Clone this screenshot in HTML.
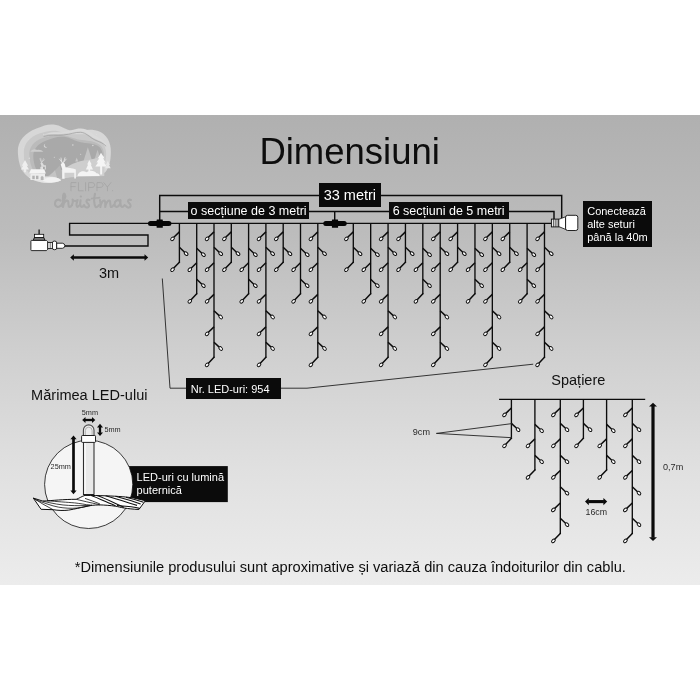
<!DOCTYPE html>
<html lang="ro">
<head>
<meta charset="utf-8">
<title>Dimensiuni</title>
<style>
html,body{margin:0;padding:0;background:#fff;}
html{filter:grayscale(1);}
body{width:700px;height:700px;position:relative;overflow:hidden;font-family:"Liberation Sans",sans-serif;color:#111;}
#band{position:absolute;left:0;top:115px;width:700px;height:470px;background:linear-gradient(180deg,#b0b0b0 0%,#bcbcbc 25%,#cfcfcf 50%,#e0e0e0 75%,#ececec 100%);}
#art{position:absolute;left:0;top:0;width:700px;height:700px;}
.t{position:absolute;white-space:nowrap;line-height:1;margin:0;}
.bx{position:absolute;background:#0b0b0b;color:#fff;white-space:nowrap;box-sizing:border-box;}
.bx span{position:absolute;line-height:1;}
</style>
</head>
<body>
<div id="band"></div>
<svg id="art" width="700" height="700" viewBox="0 0 700 700">

<defs><filter id="soft" x="-5%" y="-5%" width="110%" height="110%"><feGaussianBlur stdDeviation="0.35"/></filter></defs>
<g filter="url(#soft)">
<g transform="translate(15 120) scale(0.142857)">
<path d="M20 220 C18 150 70 90 150 60 C200 40 230 28 270 32 C320 36 350 70 400 75 C450 80 500 62 560 72 C620 82 665 130 670 200 C674 260 665 320 640 355 C620 385 560 392 500 392 C430 392 370 398 320 415 C280 432 250 445 210 440 C150 435 90 410 55 360 C30 320 22 270 20 220 Z" fill="#d7d7d7"/>
<path d="M62 230 C60 170 100 120 170 95 C220 78 260 70 300 78 C340 86 370 100 410 100 C460 100 520 95 570 120 C615 145 640 190 638 240 C636 300 620 340 590 365 C560 385 500 385 440 388 C380 392 330 400 290 415 C250 430 210 432 170 420 C110 400 70 350 64 290 Z" fill="#c9c9c9"/>
<path d="M100 240 C100 190 130 150 190 128 C240 110 290 100 340 108 C390 116 420 135 470 140 C520 146 570 150 600 180 C625 205 628 250 620 290 C610 340 580 370 530 380 C470 390 400 388 340 400 C290 410 240 422 200 412 C140 396 102 330 100 240 Z" fill="#bbbbbb"/>
<path d="M128 250 C128 205 160 165 215 145 C260 128 300 112 345 118 C390 124 420 150 470 158 C520 166 575 165 600 200 C620 230 615 280 600 320 L350 340 L200 405 C150 370 128 310 128 250 Z" fill="#a9a9a9"/>
<path d="M195 108 C240 90 290 102 340 97 C390 92 420 74 460 77 C500 80 520 112 560 132 C590 147 620 152 640 178 C622 140 590 128 565 112 C530 90 510 60 460 60 C415 60 390 80 340 84 C290 88 245 78 195 108 Z" fill="#dadada"/>
<path d="M200 116 C245 100 290 110 340 105 C390 100 420 84 460 86 C498 88 520 120 560 140 C590 154 618 160 638 184" fill="none" stroke="#9c9c9c" stroke-width="5"/>
<path d="M108 222 C115 205 140 200 155 210 C170 205 190 212 198 222 Z" fill="#cdcdcd"/>
<path d="M478 292 L510 190 L542 292 Z" fill="#c3c3c3"/>
<path d="M552 288 L578 208 L604 288 Z" fill="#c0c0c0"/>
<path d="M345 345 C400 300 450 288 500 282 C540 278 580 262 625 250 L625 392 L345 402 Z" fill="#cecece"/>
<path d="M422 290 L432 262 L442 290 Z" fill="#c8c8c8"/>
<path d="M205 412 C250 382 290 342 312 318 C322 340 330 380 338 412 Z" fill="#b4b4b4"/>
<path d="M215 412 C240 392 262 372 280 352 C286 372 292 395 296 412 Z" fill="#c4c4c4"/>
<path d="M95 400 C140 392 200 390 260 398 C300 404 322 418 322 424 C280 442 220 446 170 432 C140 422 112 412 95 400 Z" fill="#e4e4e4"/>
<path d="M195 426 C210 394 300 392 322 422 C290 440 230 444 195 426 Z" fill="#f1f1f1"/>
<path d="M70 280 L48 320 H58 L42 346 H64 V366 H76 V346 H98 L82 320 H92 Z" fill="#efefef"/>
<rect x="178" y="328" width="18" height="20" fill="#e6e6e6"/>
<path d="M98 374 L112 345 H205 L216 374 Z" fill="#f4f4f4"/>
<rect x="108" y="374" width="102" height="46" fill="#ececec"/>
<rect x="121" y="390" width="17" height="24" fill="#b2b2b2"/><rect x="147" y="390" width="17" height="24" fill="#b2b2b2"/>
<path d="M180 420 V402 C180 390 200 390 200 402 V420 Z" fill="#b6b6b6"/>
<path d="M184 346 V318 L178 302 L186 292 L196 304 L202 316 H216 V346 H209 V328 H192 V346 Z" fill="#dcdcdc"/>
<path d="M184 292 L174 272 M184 292 L180 268 M190 292 L200 270 M190 292 L206 278" stroke="#dcdcdc" stroke-width="4" fill="none" stroke-linecap="round"/>
<path d="M330 412 V342 L320 312 L334 294 L348 306 L354 330 C380 336 410 336 426 346 V410 H415 V370 H347 V412 Z" fill="#f3f3f3"/>
<path d="M328 296 L312 274 M328 296 L322 266 M340 296 L358 274 M340 296 L350 264" stroke="#f0f0f0" stroke-width="5" fill="none" stroke-linecap="round"/>
<path d="M602 230 L580 268 H590 L570 298 H582 L562 326 H596 V382 H610 V326 H642 L624 298 H634 L616 268 H626 Z" fill="#f5f5f5"/>
<path d="M520 280 L505 312 H512 L496 346 H514 V382 H526 V346 H546 L530 312 H537 Z" fill="#f3f3f3"/>
<path d="M650 285 L636 315 H642 L630 338 H670 L658 315 H664 Z" fill="#e8e8e8"/>
<path d="M438 392 C440 362 480 350 500 366 C520 348 560 352 570 372 C586 372 594 382 592 392 Z" fill="#f4f4f4"/>
<path d="M212 166 A14 14 0 1 0 228 186 A11 11 0 0 1 212 166 Z" fill="#d8d8d8"/>
<g fill="#dcdcdc"><circle cx="405" cy="175" r="5"/><circle cx="545" cy="178" r="5"/><circle cx="100" cy="268" r="5"/><circle cx="95" cy="135" r="4"/><circle cx="200" cy="100" r="4"/><circle cx="570" cy="100" r="4"/><circle cx="630" cy="165" r="4"/><circle cx="275" cy="260" r="3.5"/><circle cx="460" cy="240" r="3.5"/><circle cx="60" cy="190" r="3.5"/></g>
</g>
<g fill="none" stroke="#a4a4a4" stroke-width="0.85" stroke-linecap="round" stroke-linejoin="round">
<path d="M71 190.8 V182.6 H76 M71 186.6 H75.2"/>
<path d="M78.4 182.6 V190.8 H83.2"/>
<path d="M85.6 182.6 V190.8"/>
<path d="M88.6 190.8 V182.6 H92 C95.6 182.6 95.6 187.4 92 187.4 H88.6"/>
<path d="M97 190.8 V182.6 H100.4 C104 182.6 104 187.4 100.4 187.4 H97"/>
<path d="M103.8 182.6 L107.4 187 L111 182.6 M107.4 187 V190.8"/>
<path d="M112.6 190.6 V190.8"/>
</g>
<g fill="none" stroke="#a9a9a9" stroke-width="2.1" stroke-linecap="round" stroke-linejoin="round">
<path d="M60.5 200.6 C58 198.6 55 200 55 203.6 C55 207 58.5 208 61 205.6"/>
<path d="M61 205.6 C64.2 201 66.2 196 64.6 193.8 C63.2 192.8 62.6 196 62.9 207 C63.6 202 66.6 199.6 68 201 C69 202.6 67.6 206 69.5 207 C70.5 207 71.5 206 72 205"/>
<path d="M72 205 C73 203 73 201 72.6 199.6 C74 201.6 76.5 201 77.6 200 C76.6 202.6 76 205 77 206.8 C78 207 79 206 79.6 205"/>
<path d="M80.6 200.2 C80 203 80 206 81.6 207 C82.6 207 83.6 206 84 205"/>
<path d="M80.8 196.4 L80.9 196.5"/>
<path d="M89.6 199.9 C87 199 85.6 200.6 87 202.6 C89 204.6 90 206 88 207.3 C86.6 208 85 207 84.6 206"/>
<path d="M95 193.8 C94 198 94 204 95.6 207 C96.6 207.5 98 206.5 99 205"/>
<path d="M91.6 198.6 C94 198 97 198 99.6 197.6" stroke-width="1.6"/>
<path d="M100 200.2 C100.6 202 100.6 205 100.4 207 C101 203 103 199.9 104.6 200.6 C105.8 201.6 105 205 105.3 207 C106 203 108 199.9 109.6 200.6 C110.8 201.6 109.8 205.6 111 207 C112 207.3 113 206 113.6 205"/>
<path d="M120 201.2 C118 199 114.6 200.6 114.6 204 C114.6 207.6 118 208 120 204 C120 202.6 120.3 201 120.6 200.2 C120 203 120.6 206.6 122 207 C123 207 124 206 124.6 205"/>
<path d="M131 199.9 C128.6 199 127 200.6 128.6 202.6 C130.6 204.6 131.6 206 129.6 207.3 C128 208 126.6 207 126 206"/>
</g>
</g>

<path d="M159.70 223.40 L159.70 195.50 L561.70 195.50 L561.70 218.50" fill="none" stroke="#0c0c0c" stroke-width="1.45" />
<path d="M159.70 211.40 L554.00 211.40 L554.00 219.00" fill="none" stroke="#0c0c0c" stroke-width="1.45" />
<path d="M334.70 211.40 L334.70 223.40" fill="none" stroke="#0c0c0c" stroke-width="1.45" />
<path d="M148.00 223.40 L552.00 223.40" fill="none" stroke="#0c0c0c" stroke-width="1.4" />
<path d="M148.50 223.40 L69.60 223.40 L69.60 235.00 L148.00 235.00 L148.00 246.00 L64.00 246.00" fill="none" stroke="#0c0c0c" stroke-width="1.4" />
<path d="M179.40 223.40 V262.70" fill="none" stroke="#0c0c0c" stroke-width="1.35"/>
<path d="M179.40 262.20 L173.80 268.10" fill="none" stroke="#0c0c0c" stroke-width="1.5" stroke-linecap="round"/>
<ellipse cx="172.50" cy="269.70" rx="2.1" ry="1.45" transform="rotate(-45 172.50 269.70)" fill="#fff" stroke="#0a0a0a" stroke-width="0.95"/>
<path d="M179.40 231.90 L173.80 237.30" fill="none" stroke="#0c0c0c" stroke-width="1.5"/>
<ellipse cx="172.50" cy="238.80" rx="2.1" ry="1.45" transform="rotate(-45 172.50 238.80)" fill="#fff" stroke="#0a0a0a" stroke-width="0.95"/>
<path d="M179.40 247.30 L184.60 252.20" fill="none" stroke="#0c0c0c" stroke-width="1.5"/>
<ellipse cx="186.10" cy="253.60" rx="2.1" ry="1.45" transform="rotate(45 186.10 253.60)" fill="#fff" stroke="#0a0a0a" stroke-width="0.95"/>
<path d="M196.70 223.40 V294.30" fill="none" stroke="#0c0c0c" stroke-width="1.35"/>
<path d="M196.70 293.80 L191.10 299.70" fill="none" stroke="#0c0c0c" stroke-width="1.5" stroke-linecap="round"/>
<ellipse cx="189.80" cy="301.30" rx="2.1" ry="1.45" transform="rotate(-45 189.80 301.30)" fill="#fff" stroke="#0a0a0a" stroke-width="0.95"/>
<path d="M196.70 262.80 L191.10 268.20" fill="none" stroke="#0c0c0c" stroke-width="1.5"/>
<ellipse cx="189.80" cy="269.70" rx="2.1" ry="1.45" transform="rotate(-45 189.80 269.70)" fill="#fff" stroke="#0a0a0a" stroke-width="0.95"/>
<path d="M196.70 248.30 L201.90 253.20" fill="none" stroke="#0c0c0c" stroke-width="1.5"/>
<ellipse cx="203.40" cy="254.60" rx="2.1" ry="1.45" transform="rotate(45 203.40 254.60)" fill="#fff" stroke="#0a0a0a" stroke-width="0.95"/>
<path d="M196.70 279.30 L201.90 284.20" fill="none" stroke="#0c0c0c" stroke-width="1.5"/>
<ellipse cx="203.40" cy="285.60" rx="2.1" ry="1.45" transform="rotate(45 203.40 285.60)" fill="#fff" stroke="#0a0a0a" stroke-width="0.95"/>
<path d="M214.00 223.40 V357.80" fill="none" stroke="#0c0c0c" stroke-width="1.35"/>
<path d="M214.00 357.30 L208.40 363.20" fill="none" stroke="#0c0c0c" stroke-width="1.5" stroke-linecap="round"/>
<ellipse cx="207.10" cy="364.80" rx="2.1" ry="1.45" transform="rotate(-45 207.10 364.80)" fill="#fff" stroke="#0a0a0a" stroke-width="0.95"/>
<path d="M214.00 231.90 L208.40 237.30" fill="none" stroke="#0c0c0c" stroke-width="1.5"/>
<ellipse cx="207.10" cy="238.80" rx="2.1" ry="1.45" transform="rotate(-45 207.10 238.80)" fill="#fff" stroke="#0a0a0a" stroke-width="0.95"/>
<path d="M214.00 262.80 L208.40 268.20" fill="none" stroke="#0c0c0c" stroke-width="1.5"/>
<ellipse cx="207.10" cy="269.70" rx="2.1" ry="1.45" transform="rotate(-45 207.10 269.70)" fill="#fff" stroke="#0a0a0a" stroke-width="0.95"/>
<path d="M214.00 294.40 L208.40 299.80" fill="none" stroke="#0c0c0c" stroke-width="1.5"/>
<ellipse cx="207.10" cy="301.30" rx="2.1" ry="1.45" transform="rotate(-45 207.10 301.30)" fill="#fff" stroke="#0a0a0a" stroke-width="0.95"/>
<path d="M214.00 326.90 L208.40 332.30" fill="none" stroke="#0c0c0c" stroke-width="1.5"/>
<ellipse cx="207.10" cy="333.80" rx="2.1" ry="1.45" transform="rotate(-45 207.10 333.80)" fill="#fff" stroke="#0a0a0a" stroke-width="0.95"/>
<path d="M214.00 247.30 L219.20 252.20" fill="none" stroke="#0c0c0c" stroke-width="1.5"/>
<ellipse cx="220.70" cy="253.60" rx="2.1" ry="1.45" transform="rotate(45 220.70 253.60)" fill="#fff" stroke="#0a0a0a" stroke-width="0.95"/>
<path d="M214.00 310.70 L219.20 315.60" fill="none" stroke="#0c0c0c" stroke-width="1.5"/>
<ellipse cx="220.70" cy="317.00" rx="2.1" ry="1.45" transform="rotate(45 220.70 317.00)" fill="#fff" stroke="#0a0a0a" stroke-width="0.95"/>
<path d="M214.00 342.20 L219.20 347.10" fill="none" stroke="#0c0c0c" stroke-width="1.5"/>
<ellipse cx="220.70" cy="348.50" rx="2.1" ry="1.45" transform="rotate(45 220.70 348.50)" fill="#fff" stroke="#0a0a0a" stroke-width="0.95"/>
<path d="M231.30 223.40 V262.70" fill="none" stroke="#0c0c0c" stroke-width="1.35"/>
<path d="M231.30 262.20 L225.70 268.10" fill="none" stroke="#0c0c0c" stroke-width="1.5" stroke-linecap="round"/>
<ellipse cx="224.40" cy="269.70" rx="2.1" ry="1.45" transform="rotate(-45 224.40 269.70)" fill="#fff" stroke="#0a0a0a" stroke-width="0.95"/>
<path d="M231.30 231.90 L225.70 237.30" fill="none" stroke="#0c0c0c" stroke-width="1.5"/>
<ellipse cx="224.40" cy="238.80" rx="2.1" ry="1.45" transform="rotate(-45 224.40 238.80)" fill="#fff" stroke="#0a0a0a" stroke-width="0.95"/>
<path d="M231.30 247.30 L236.50 252.20" fill="none" stroke="#0c0c0c" stroke-width="1.5"/>
<ellipse cx="238.00" cy="253.60" rx="2.1" ry="1.45" transform="rotate(45 238.00 253.60)" fill="#fff" stroke="#0a0a0a" stroke-width="0.95"/>
<path d="M248.60 223.40 V294.30" fill="none" stroke="#0c0c0c" stroke-width="1.35"/>
<path d="M248.60 293.80 L243.00 299.70" fill="none" stroke="#0c0c0c" stroke-width="1.5" stroke-linecap="round"/>
<ellipse cx="241.70" cy="301.30" rx="2.1" ry="1.45" transform="rotate(-45 241.70 301.30)" fill="#fff" stroke="#0a0a0a" stroke-width="0.95"/>
<path d="M248.60 262.80 L243.00 268.20" fill="none" stroke="#0c0c0c" stroke-width="1.5"/>
<ellipse cx="241.70" cy="269.70" rx="2.1" ry="1.45" transform="rotate(-45 241.70 269.70)" fill="#fff" stroke="#0a0a0a" stroke-width="0.95"/>
<path d="M248.60 248.30 L253.80 253.20" fill="none" stroke="#0c0c0c" stroke-width="1.5"/>
<ellipse cx="255.30" cy="254.60" rx="2.1" ry="1.45" transform="rotate(45 255.30 254.60)" fill="#fff" stroke="#0a0a0a" stroke-width="0.95"/>
<path d="M248.60 279.30 L253.80 284.20" fill="none" stroke="#0c0c0c" stroke-width="1.5"/>
<ellipse cx="255.30" cy="285.60" rx="2.1" ry="1.45" transform="rotate(45 255.30 285.60)" fill="#fff" stroke="#0a0a0a" stroke-width="0.95"/>
<path d="M265.90 223.40 V357.80" fill="none" stroke="#0c0c0c" stroke-width="1.35"/>
<path d="M265.90 357.30 L260.30 363.20" fill="none" stroke="#0c0c0c" stroke-width="1.5" stroke-linecap="round"/>
<ellipse cx="259.00" cy="364.80" rx="2.1" ry="1.45" transform="rotate(-45 259.00 364.80)" fill="#fff" stroke="#0a0a0a" stroke-width="0.95"/>
<path d="M265.90 231.90 L260.30 237.30" fill="none" stroke="#0c0c0c" stroke-width="1.5"/>
<ellipse cx="259.00" cy="238.80" rx="2.1" ry="1.45" transform="rotate(-45 259.00 238.80)" fill="#fff" stroke="#0a0a0a" stroke-width="0.95"/>
<path d="M265.90 262.80 L260.30 268.20" fill="none" stroke="#0c0c0c" stroke-width="1.5"/>
<ellipse cx="259.00" cy="269.70" rx="2.1" ry="1.45" transform="rotate(-45 259.00 269.70)" fill="#fff" stroke="#0a0a0a" stroke-width="0.95"/>
<path d="M265.90 294.40 L260.30 299.80" fill="none" stroke="#0c0c0c" stroke-width="1.5"/>
<ellipse cx="259.00" cy="301.30" rx="2.1" ry="1.45" transform="rotate(-45 259.00 301.30)" fill="#fff" stroke="#0a0a0a" stroke-width="0.95"/>
<path d="M265.90 326.90 L260.30 332.30" fill="none" stroke="#0c0c0c" stroke-width="1.5"/>
<ellipse cx="259.00" cy="333.80" rx="2.1" ry="1.45" transform="rotate(-45 259.00 333.80)" fill="#fff" stroke="#0a0a0a" stroke-width="0.95"/>
<path d="M265.90 247.30 L271.10 252.20" fill="none" stroke="#0c0c0c" stroke-width="1.5"/>
<ellipse cx="272.60" cy="253.60" rx="2.1" ry="1.45" transform="rotate(45 272.60 253.60)" fill="#fff" stroke="#0a0a0a" stroke-width="0.95"/>
<path d="M265.90 310.70 L271.10 315.60" fill="none" stroke="#0c0c0c" stroke-width="1.5"/>
<ellipse cx="272.60" cy="317.00" rx="2.1" ry="1.45" transform="rotate(45 272.60 317.00)" fill="#fff" stroke="#0a0a0a" stroke-width="0.95"/>
<path d="M265.90 342.20 L271.10 347.10" fill="none" stroke="#0c0c0c" stroke-width="1.5"/>
<ellipse cx="272.60" cy="348.50" rx="2.1" ry="1.45" transform="rotate(45 272.60 348.50)" fill="#fff" stroke="#0a0a0a" stroke-width="0.95"/>
<path d="M283.20 223.40 V262.70" fill="none" stroke="#0c0c0c" stroke-width="1.35"/>
<path d="M283.20 262.20 L277.60 268.10" fill="none" stroke="#0c0c0c" stroke-width="1.5" stroke-linecap="round"/>
<ellipse cx="276.30" cy="269.70" rx="2.1" ry="1.45" transform="rotate(-45 276.30 269.70)" fill="#fff" stroke="#0a0a0a" stroke-width="0.95"/>
<path d="M283.20 231.90 L277.60 237.30" fill="none" stroke="#0c0c0c" stroke-width="1.5"/>
<ellipse cx="276.30" cy="238.80" rx="2.1" ry="1.45" transform="rotate(-45 276.30 238.80)" fill="#fff" stroke="#0a0a0a" stroke-width="0.95"/>
<path d="M283.20 247.30 L288.40 252.20" fill="none" stroke="#0c0c0c" stroke-width="1.5"/>
<ellipse cx="289.90" cy="253.60" rx="2.1" ry="1.45" transform="rotate(45 289.90 253.60)" fill="#fff" stroke="#0a0a0a" stroke-width="0.95"/>
<path d="M300.50 223.40 V294.30" fill="none" stroke="#0c0c0c" stroke-width="1.35"/>
<path d="M300.50 293.80 L294.90 299.70" fill="none" stroke="#0c0c0c" stroke-width="1.5" stroke-linecap="round"/>
<ellipse cx="293.60" cy="301.30" rx="2.1" ry="1.45" transform="rotate(-45 293.60 301.30)" fill="#fff" stroke="#0a0a0a" stroke-width="0.95"/>
<path d="M300.50 262.80 L294.90 268.20" fill="none" stroke="#0c0c0c" stroke-width="1.5"/>
<ellipse cx="293.60" cy="269.70" rx="2.1" ry="1.45" transform="rotate(-45 293.60 269.70)" fill="#fff" stroke="#0a0a0a" stroke-width="0.95"/>
<path d="M300.50 248.30 L305.70 253.20" fill="none" stroke="#0c0c0c" stroke-width="1.5"/>
<ellipse cx="307.20" cy="254.60" rx="2.1" ry="1.45" transform="rotate(45 307.20 254.60)" fill="#fff" stroke="#0a0a0a" stroke-width="0.95"/>
<path d="M300.50 279.30 L305.70 284.20" fill="none" stroke="#0c0c0c" stroke-width="1.5"/>
<ellipse cx="307.20" cy="285.60" rx="2.1" ry="1.45" transform="rotate(45 307.20 285.60)" fill="#fff" stroke="#0a0a0a" stroke-width="0.95"/>
<path d="M317.80 223.40 V357.80" fill="none" stroke="#0c0c0c" stroke-width="1.35"/>
<path d="M317.80 357.30 L312.20 363.20" fill="none" stroke="#0c0c0c" stroke-width="1.5" stroke-linecap="round"/>
<ellipse cx="310.90" cy="364.80" rx="2.1" ry="1.45" transform="rotate(-45 310.90 364.80)" fill="#fff" stroke="#0a0a0a" stroke-width="0.95"/>
<path d="M317.80 231.90 L312.20 237.30" fill="none" stroke="#0c0c0c" stroke-width="1.5"/>
<ellipse cx="310.90" cy="238.80" rx="2.1" ry="1.45" transform="rotate(-45 310.90 238.80)" fill="#fff" stroke="#0a0a0a" stroke-width="0.95"/>
<path d="M317.80 262.80 L312.20 268.20" fill="none" stroke="#0c0c0c" stroke-width="1.5"/>
<ellipse cx="310.90" cy="269.70" rx="2.1" ry="1.45" transform="rotate(-45 310.90 269.70)" fill="#fff" stroke="#0a0a0a" stroke-width="0.95"/>
<path d="M317.80 294.40 L312.20 299.80" fill="none" stroke="#0c0c0c" stroke-width="1.5"/>
<ellipse cx="310.90" cy="301.30" rx="2.1" ry="1.45" transform="rotate(-45 310.90 301.30)" fill="#fff" stroke="#0a0a0a" stroke-width="0.95"/>
<path d="M317.80 326.90 L312.20 332.30" fill="none" stroke="#0c0c0c" stroke-width="1.5"/>
<ellipse cx="310.90" cy="333.80" rx="2.1" ry="1.45" transform="rotate(-45 310.90 333.80)" fill="#fff" stroke="#0a0a0a" stroke-width="0.95"/>
<path d="M317.80 247.30 L323.00 252.20" fill="none" stroke="#0c0c0c" stroke-width="1.5"/>
<ellipse cx="324.50" cy="253.60" rx="2.1" ry="1.45" transform="rotate(45 324.50 253.60)" fill="#fff" stroke="#0a0a0a" stroke-width="0.95"/>
<path d="M317.80 310.70 L323.00 315.60" fill="none" stroke="#0c0c0c" stroke-width="1.5"/>
<ellipse cx="324.50" cy="317.00" rx="2.1" ry="1.45" transform="rotate(45 324.50 317.00)" fill="#fff" stroke="#0a0a0a" stroke-width="0.95"/>
<path d="M317.80 342.20 L323.00 347.10" fill="none" stroke="#0c0c0c" stroke-width="1.5"/>
<ellipse cx="324.50" cy="348.50" rx="2.1" ry="1.45" transform="rotate(45 324.50 348.50)" fill="#fff" stroke="#0a0a0a" stroke-width="0.95"/>
<path d="M353.30 223.40 V262.70" fill="none" stroke="#0c0c0c" stroke-width="1.35"/>
<path d="M353.30 262.20 L347.70 268.10" fill="none" stroke="#0c0c0c" stroke-width="1.5" stroke-linecap="round"/>
<ellipse cx="346.40" cy="269.70" rx="2.1" ry="1.45" transform="rotate(-45 346.40 269.70)" fill="#fff" stroke="#0a0a0a" stroke-width="0.95"/>
<path d="M353.30 231.90 L347.70 237.30" fill="none" stroke="#0c0c0c" stroke-width="1.5"/>
<ellipse cx="346.40" cy="238.80" rx="2.1" ry="1.45" transform="rotate(-45 346.40 238.80)" fill="#fff" stroke="#0a0a0a" stroke-width="0.95"/>
<path d="M353.30 247.30 L358.50 252.20" fill="none" stroke="#0c0c0c" stroke-width="1.5"/>
<ellipse cx="360.00" cy="253.60" rx="2.1" ry="1.45" transform="rotate(45 360.00 253.60)" fill="#fff" stroke="#0a0a0a" stroke-width="0.95"/>
<path d="M370.68 223.40 V294.30" fill="none" stroke="#0c0c0c" stroke-width="1.35"/>
<path d="M370.68 293.80 L365.08 299.70" fill="none" stroke="#0c0c0c" stroke-width="1.5" stroke-linecap="round"/>
<ellipse cx="363.78" cy="301.30" rx="2.1" ry="1.45" transform="rotate(-45 363.78 301.30)" fill="#fff" stroke="#0a0a0a" stroke-width="0.95"/>
<path d="M370.68 262.80 L365.08 268.20" fill="none" stroke="#0c0c0c" stroke-width="1.5"/>
<ellipse cx="363.78" cy="269.70" rx="2.1" ry="1.45" transform="rotate(-45 363.78 269.70)" fill="#fff" stroke="#0a0a0a" stroke-width="0.95"/>
<path d="M370.68 248.30 L375.88 253.20" fill="none" stroke="#0c0c0c" stroke-width="1.5"/>
<ellipse cx="377.38" cy="254.60" rx="2.1" ry="1.45" transform="rotate(45 377.38 254.60)" fill="#fff" stroke="#0a0a0a" stroke-width="0.95"/>
<path d="M370.68 279.30 L375.88 284.20" fill="none" stroke="#0c0c0c" stroke-width="1.5"/>
<ellipse cx="377.38" cy="285.60" rx="2.1" ry="1.45" transform="rotate(45 377.38 285.60)" fill="#fff" stroke="#0a0a0a" stroke-width="0.95"/>
<path d="M388.06 223.40 V357.80" fill="none" stroke="#0c0c0c" stroke-width="1.35"/>
<path d="M388.06 357.30 L382.46 363.20" fill="none" stroke="#0c0c0c" stroke-width="1.5" stroke-linecap="round"/>
<ellipse cx="381.16" cy="364.80" rx="2.1" ry="1.45" transform="rotate(-45 381.16 364.80)" fill="#fff" stroke="#0a0a0a" stroke-width="0.95"/>
<path d="M388.06 231.90 L382.46 237.30" fill="none" stroke="#0c0c0c" stroke-width="1.5"/>
<ellipse cx="381.16" cy="238.80" rx="2.1" ry="1.45" transform="rotate(-45 381.16 238.80)" fill="#fff" stroke="#0a0a0a" stroke-width="0.95"/>
<path d="M388.06 262.80 L382.46 268.20" fill="none" stroke="#0c0c0c" stroke-width="1.5"/>
<ellipse cx="381.16" cy="269.70" rx="2.1" ry="1.45" transform="rotate(-45 381.16 269.70)" fill="#fff" stroke="#0a0a0a" stroke-width="0.95"/>
<path d="M388.06 294.40 L382.46 299.80" fill="none" stroke="#0c0c0c" stroke-width="1.5"/>
<ellipse cx="381.16" cy="301.30" rx="2.1" ry="1.45" transform="rotate(-45 381.16 301.30)" fill="#fff" stroke="#0a0a0a" stroke-width="0.95"/>
<path d="M388.06 326.90 L382.46 332.30" fill="none" stroke="#0c0c0c" stroke-width="1.5"/>
<ellipse cx="381.16" cy="333.80" rx="2.1" ry="1.45" transform="rotate(-45 381.16 333.80)" fill="#fff" stroke="#0a0a0a" stroke-width="0.95"/>
<path d="M388.06 247.30 L393.26 252.20" fill="none" stroke="#0c0c0c" stroke-width="1.5"/>
<ellipse cx="394.76" cy="253.60" rx="2.1" ry="1.45" transform="rotate(45 394.76 253.60)" fill="#fff" stroke="#0a0a0a" stroke-width="0.95"/>
<path d="M388.06 310.70 L393.26 315.60" fill="none" stroke="#0c0c0c" stroke-width="1.5"/>
<ellipse cx="394.76" cy="317.00" rx="2.1" ry="1.45" transform="rotate(45 394.76 317.00)" fill="#fff" stroke="#0a0a0a" stroke-width="0.95"/>
<path d="M388.06 342.20 L393.26 347.10" fill="none" stroke="#0c0c0c" stroke-width="1.5"/>
<ellipse cx="394.76" cy="348.50" rx="2.1" ry="1.45" transform="rotate(45 394.76 348.50)" fill="#fff" stroke="#0a0a0a" stroke-width="0.95"/>
<path d="M405.44 223.40 V262.70" fill="none" stroke="#0c0c0c" stroke-width="1.35"/>
<path d="M405.44 262.20 L399.84 268.10" fill="none" stroke="#0c0c0c" stroke-width="1.5" stroke-linecap="round"/>
<ellipse cx="398.54" cy="269.70" rx="2.1" ry="1.45" transform="rotate(-45 398.54 269.70)" fill="#fff" stroke="#0a0a0a" stroke-width="0.95"/>
<path d="M405.44 231.90 L399.84 237.30" fill="none" stroke="#0c0c0c" stroke-width="1.5"/>
<ellipse cx="398.54" cy="238.80" rx="2.1" ry="1.45" transform="rotate(-45 398.54 238.80)" fill="#fff" stroke="#0a0a0a" stroke-width="0.95"/>
<path d="M405.44 247.30 L410.64 252.20" fill="none" stroke="#0c0c0c" stroke-width="1.5"/>
<ellipse cx="412.14" cy="253.60" rx="2.1" ry="1.45" transform="rotate(45 412.14 253.60)" fill="#fff" stroke="#0a0a0a" stroke-width="0.95"/>
<path d="M422.82 223.40 V294.30" fill="none" stroke="#0c0c0c" stroke-width="1.35"/>
<path d="M422.82 293.80 L417.22 299.70" fill="none" stroke="#0c0c0c" stroke-width="1.5" stroke-linecap="round"/>
<ellipse cx="415.92" cy="301.30" rx="2.1" ry="1.45" transform="rotate(-45 415.92 301.30)" fill="#fff" stroke="#0a0a0a" stroke-width="0.95"/>
<path d="M422.82 262.80 L417.22 268.20" fill="none" stroke="#0c0c0c" stroke-width="1.5"/>
<ellipse cx="415.92" cy="269.70" rx="2.1" ry="1.45" transform="rotate(-45 415.92 269.70)" fill="#fff" stroke="#0a0a0a" stroke-width="0.95"/>
<path d="M422.82 248.30 L428.02 253.20" fill="none" stroke="#0c0c0c" stroke-width="1.5"/>
<ellipse cx="429.52" cy="254.60" rx="2.1" ry="1.45" transform="rotate(45 429.52 254.60)" fill="#fff" stroke="#0a0a0a" stroke-width="0.95"/>
<path d="M422.82 279.30 L428.02 284.20" fill="none" stroke="#0c0c0c" stroke-width="1.5"/>
<ellipse cx="429.52" cy="285.60" rx="2.1" ry="1.45" transform="rotate(45 429.52 285.60)" fill="#fff" stroke="#0a0a0a" stroke-width="0.95"/>
<path d="M440.20 223.40 V357.80" fill="none" stroke="#0c0c0c" stroke-width="1.35"/>
<path d="M440.20 357.30 L434.60 363.20" fill="none" stroke="#0c0c0c" stroke-width="1.5" stroke-linecap="round"/>
<ellipse cx="433.30" cy="364.80" rx="2.1" ry="1.45" transform="rotate(-45 433.30 364.80)" fill="#fff" stroke="#0a0a0a" stroke-width="0.95"/>
<path d="M440.20 231.90 L434.60 237.30" fill="none" stroke="#0c0c0c" stroke-width="1.5"/>
<ellipse cx="433.30" cy="238.80" rx="2.1" ry="1.45" transform="rotate(-45 433.30 238.80)" fill="#fff" stroke="#0a0a0a" stroke-width="0.95"/>
<path d="M440.20 262.80 L434.60 268.20" fill="none" stroke="#0c0c0c" stroke-width="1.5"/>
<ellipse cx="433.30" cy="269.70" rx="2.1" ry="1.45" transform="rotate(-45 433.30 269.70)" fill="#fff" stroke="#0a0a0a" stroke-width="0.95"/>
<path d="M440.20 294.40 L434.60 299.80" fill="none" stroke="#0c0c0c" stroke-width="1.5"/>
<ellipse cx="433.30" cy="301.30" rx="2.1" ry="1.45" transform="rotate(-45 433.30 301.30)" fill="#fff" stroke="#0a0a0a" stroke-width="0.95"/>
<path d="M440.20 326.90 L434.60 332.30" fill="none" stroke="#0c0c0c" stroke-width="1.5"/>
<ellipse cx="433.30" cy="333.80" rx="2.1" ry="1.45" transform="rotate(-45 433.30 333.80)" fill="#fff" stroke="#0a0a0a" stroke-width="0.95"/>
<path d="M440.20 247.30 L445.40 252.20" fill="none" stroke="#0c0c0c" stroke-width="1.5"/>
<ellipse cx="446.90" cy="253.60" rx="2.1" ry="1.45" transform="rotate(45 446.90 253.60)" fill="#fff" stroke="#0a0a0a" stroke-width="0.95"/>
<path d="M440.20 310.70 L445.40 315.60" fill="none" stroke="#0c0c0c" stroke-width="1.5"/>
<ellipse cx="446.90" cy="317.00" rx="2.1" ry="1.45" transform="rotate(45 446.90 317.00)" fill="#fff" stroke="#0a0a0a" stroke-width="0.95"/>
<path d="M440.20 342.20 L445.40 347.10" fill="none" stroke="#0c0c0c" stroke-width="1.5"/>
<ellipse cx="446.90" cy="348.50" rx="2.1" ry="1.45" transform="rotate(45 446.90 348.50)" fill="#fff" stroke="#0a0a0a" stroke-width="0.95"/>
<path d="M457.58 223.40 V262.70" fill="none" stroke="#0c0c0c" stroke-width="1.35"/>
<path d="M457.58 262.20 L451.98 268.10" fill="none" stroke="#0c0c0c" stroke-width="1.5" stroke-linecap="round"/>
<ellipse cx="450.68" cy="269.70" rx="2.1" ry="1.45" transform="rotate(-45 450.68 269.70)" fill="#fff" stroke="#0a0a0a" stroke-width="0.95"/>
<path d="M457.58 231.90 L451.98 237.30" fill="none" stroke="#0c0c0c" stroke-width="1.5"/>
<ellipse cx="450.68" cy="238.80" rx="2.1" ry="1.45" transform="rotate(-45 450.68 238.80)" fill="#fff" stroke="#0a0a0a" stroke-width="0.95"/>
<path d="M457.58 247.30 L462.78 252.20" fill="none" stroke="#0c0c0c" stroke-width="1.5"/>
<ellipse cx="464.28" cy="253.60" rx="2.1" ry="1.45" transform="rotate(45 464.28 253.60)" fill="#fff" stroke="#0a0a0a" stroke-width="0.95"/>
<path d="M474.96 223.40 V294.30" fill="none" stroke="#0c0c0c" stroke-width="1.35"/>
<path d="M474.96 293.80 L469.36 299.70" fill="none" stroke="#0c0c0c" stroke-width="1.5" stroke-linecap="round"/>
<ellipse cx="468.06" cy="301.30" rx="2.1" ry="1.45" transform="rotate(-45 468.06 301.30)" fill="#fff" stroke="#0a0a0a" stroke-width="0.95"/>
<path d="M474.96 262.80 L469.36 268.20" fill="none" stroke="#0c0c0c" stroke-width="1.5"/>
<ellipse cx="468.06" cy="269.70" rx="2.1" ry="1.45" transform="rotate(-45 468.06 269.70)" fill="#fff" stroke="#0a0a0a" stroke-width="0.95"/>
<path d="M474.96 248.30 L480.16 253.20" fill="none" stroke="#0c0c0c" stroke-width="1.5"/>
<ellipse cx="481.66" cy="254.60" rx="2.1" ry="1.45" transform="rotate(45 481.66 254.60)" fill="#fff" stroke="#0a0a0a" stroke-width="0.95"/>
<path d="M474.96 279.30 L480.16 284.20" fill="none" stroke="#0c0c0c" stroke-width="1.5"/>
<ellipse cx="481.66" cy="285.60" rx="2.1" ry="1.45" transform="rotate(45 481.66 285.60)" fill="#fff" stroke="#0a0a0a" stroke-width="0.95"/>
<path d="M492.34 223.40 V357.80" fill="none" stroke="#0c0c0c" stroke-width="1.35"/>
<path d="M492.34 357.30 L486.74 363.20" fill="none" stroke="#0c0c0c" stroke-width="1.5" stroke-linecap="round"/>
<ellipse cx="485.44" cy="364.80" rx="2.1" ry="1.45" transform="rotate(-45 485.44 364.80)" fill="#fff" stroke="#0a0a0a" stroke-width="0.95"/>
<path d="M492.34 231.90 L486.74 237.30" fill="none" stroke="#0c0c0c" stroke-width="1.5"/>
<ellipse cx="485.44" cy="238.80" rx="2.1" ry="1.45" transform="rotate(-45 485.44 238.80)" fill="#fff" stroke="#0a0a0a" stroke-width="0.95"/>
<path d="M492.34 262.80 L486.74 268.20" fill="none" stroke="#0c0c0c" stroke-width="1.5"/>
<ellipse cx="485.44" cy="269.70" rx="2.1" ry="1.45" transform="rotate(-45 485.44 269.70)" fill="#fff" stroke="#0a0a0a" stroke-width="0.95"/>
<path d="M492.34 294.40 L486.74 299.80" fill="none" stroke="#0c0c0c" stroke-width="1.5"/>
<ellipse cx="485.44" cy="301.30" rx="2.1" ry="1.45" transform="rotate(-45 485.44 301.30)" fill="#fff" stroke="#0a0a0a" stroke-width="0.95"/>
<path d="M492.34 326.90 L486.74 332.30" fill="none" stroke="#0c0c0c" stroke-width="1.5"/>
<ellipse cx="485.44" cy="333.80" rx="2.1" ry="1.45" transform="rotate(-45 485.44 333.80)" fill="#fff" stroke="#0a0a0a" stroke-width="0.95"/>
<path d="M492.34 247.30 L497.54 252.20" fill="none" stroke="#0c0c0c" stroke-width="1.5"/>
<ellipse cx="499.04" cy="253.60" rx="2.1" ry="1.45" transform="rotate(45 499.04 253.60)" fill="#fff" stroke="#0a0a0a" stroke-width="0.95"/>
<path d="M492.34 310.70 L497.54 315.60" fill="none" stroke="#0c0c0c" stroke-width="1.5"/>
<ellipse cx="499.04" cy="317.00" rx="2.1" ry="1.45" transform="rotate(45 499.04 317.00)" fill="#fff" stroke="#0a0a0a" stroke-width="0.95"/>
<path d="M492.34 342.20 L497.54 347.10" fill="none" stroke="#0c0c0c" stroke-width="1.5"/>
<ellipse cx="499.04" cy="348.50" rx="2.1" ry="1.45" transform="rotate(45 499.04 348.50)" fill="#fff" stroke="#0a0a0a" stroke-width="0.95"/>
<path d="M509.72 223.40 V262.70" fill="none" stroke="#0c0c0c" stroke-width="1.35"/>
<path d="M509.72 262.20 L504.12 268.10" fill="none" stroke="#0c0c0c" stroke-width="1.5" stroke-linecap="round"/>
<ellipse cx="502.82" cy="269.70" rx="2.1" ry="1.45" transform="rotate(-45 502.82 269.70)" fill="#fff" stroke="#0a0a0a" stroke-width="0.95"/>
<path d="M509.72 231.90 L504.12 237.30" fill="none" stroke="#0c0c0c" stroke-width="1.5"/>
<ellipse cx="502.82" cy="238.80" rx="2.1" ry="1.45" transform="rotate(-45 502.82 238.80)" fill="#fff" stroke="#0a0a0a" stroke-width="0.95"/>
<path d="M509.72 247.30 L514.92 252.20" fill="none" stroke="#0c0c0c" stroke-width="1.5"/>
<ellipse cx="516.42" cy="253.60" rx="2.1" ry="1.45" transform="rotate(45 516.42 253.60)" fill="#fff" stroke="#0a0a0a" stroke-width="0.95"/>
<path d="M527.10 223.40 V294.30" fill="none" stroke="#0c0c0c" stroke-width="1.35"/>
<path d="M527.10 293.80 L521.50 299.70" fill="none" stroke="#0c0c0c" stroke-width="1.5" stroke-linecap="round"/>
<ellipse cx="520.20" cy="301.30" rx="2.1" ry="1.45" transform="rotate(-45 520.20 301.30)" fill="#fff" stroke="#0a0a0a" stroke-width="0.95"/>
<path d="M527.10 262.80 L521.50 268.20" fill="none" stroke="#0c0c0c" stroke-width="1.5"/>
<ellipse cx="520.20" cy="269.70" rx="2.1" ry="1.45" transform="rotate(-45 520.20 269.70)" fill="#fff" stroke="#0a0a0a" stroke-width="0.95"/>
<path d="M527.10 248.30 L532.30 253.20" fill="none" stroke="#0c0c0c" stroke-width="1.5"/>
<ellipse cx="533.80" cy="254.60" rx="2.1" ry="1.45" transform="rotate(45 533.80 254.60)" fill="#fff" stroke="#0a0a0a" stroke-width="0.95"/>
<path d="M527.10 279.30 L532.30 284.20" fill="none" stroke="#0c0c0c" stroke-width="1.5"/>
<ellipse cx="533.80" cy="285.60" rx="2.1" ry="1.45" transform="rotate(45 533.80 285.60)" fill="#fff" stroke="#0a0a0a" stroke-width="0.95"/>
<path d="M544.48 223.40 V357.80" fill="none" stroke="#0c0c0c" stroke-width="1.35"/>
<path d="M544.48 357.30 L538.88 363.20" fill="none" stroke="#0c0c0c" stroke-width="1.5" stroke-linecap="round"/>
<ellipse cx="537.58" cy="364.80" rx="2.1" ry="1.45" transform="rotate(-45 537.58 364.80)" fill="#fff" stroke="#0a0a0a" stroke-width="0.95"/>
<path d="M544.48 231.90 L538.88 237.30" fill="none" stroke="#0c0c0c" stroke-width="1.5"/>
<ellipse cx="537.58" cy="238.80" rx="2.1" ry="1.45" transform="rotate(-45 537.58 238.80)" fill="#fff" stroke="#0a0a0a" stroke-width="0.95"/>
<path d="M544.48 262.80 L538.88 268.20" fill="none" stroke="#0c0c0c" stroke-width="1.5"/>
<ellipse cx="537.58" cy="269.70" rx="2.1" ry="1.45" transform="rotate(-45 537.58 269.70)" fill="#fff" stroke="#0a0a0a" stroke-width="0.95"/>
<path d="M544.48 294.40 L538.88 299.80" fill="none" stroke="#0c0c0c" stroke-width="1.5"/>
<ellipse cx="537.58" cy="301.30" rx="2.1" ry="1.45" transform="rotate(-45 537.58 301.30)" fill="#fff" stroke="#0a0a0a" stroke-width="0.95"/>
<path d="M544.48 326.90 L538.88 332.30" fill="none" stroke="#0c0c0c" stroke-width="1.5"/>
<ellipse cx="537.58" cy="333.80" rx="2.1" ry="1.45" transform="rotate(-45 537.58 333.80)" fill="#fff" stroke="#0a0a0a" stroke-width="0.95"/>
<path d="M544.48 247.30 L549.68 252.20" fill="none" stroke="#0c0c0c" stroke-width="1.5"/>
<ellipse cx="551.18" cy="253.60" rx="2.1" ry="1.45" transform="rotate(45 551.18 253.60)" fill="#fff" stroke="#0a0a0a" stroke-width="0.95"/>
<path d="M544.48 310.70 L549.68 315.60" fill="none" stroke="#0c0c0c" stroke-width="1.5"/>
<ellipse cx="551.18" cy="317.00" rx="2.1" ry="1.45" transform="rotate(45 551.18 317.00)" fill="#fff" stroke="#0a0a0a" stroke-width="0.95"/>
<path d="M544.48 342.20 L549.68 347.10" fill="none" stroke="#0c0c0c" stroke-width="1.5"/>
<ellipse cx="551.18" cy="348.50" rx="2.1" ry="1.45" transform="rotate(45 551.18 348.50)" fill="#fff" stroke="#0a0a0a" stroke-width="0.95"/>
<rect x="148.00" y="220.90" width="23.4" height="5.0" rx="2.5" fill="#050505"/>
<rect x="156.60" y="219.50" width="6.2" height="8.3" rx="0.5" fill="#050505"/>
<rect x="323.30" y="220.90" width="23.4" height="5.0" rx="2.5" fill="#050505"/>
<rect x="331.90" y="219.50" width="6.2" height="8.3" rx="0.5" fill="#050505"/>
<rect x="551.4" y="219.1" width="7.4" height="7.8" fill="#fff" stroke="#0c0c0c" stroke-width="0.9"/>
<path d="M553.4 219.1 V226.9" stroke="#0c0c0c" stroke-width="0.7"/>
<path d="M555.2 219.1 V226.9" stroke="#0c0c0c" stroke-width="0.7"/>
<path d="M557.0 219.1 V226.9" stroke="#0c0c0c" stroke-width="0.7"/>
<path d="M558.8 219.3 L565.6 216.8 V229.4 L558.8 226.6 Z" fill="#fff" stroke="#0c0c0c" stroke-width="0.8" stroke-linejoin="round"/>
<rect x="565.6" y="215.3" width="12.2" height="15.2" rx="2" fill="#fff" stroke="#0c0c0c" stroke-width="0.9"/>
<path d="M39.1 229.6 V234.5" stroke="#0c0c0c" stroke-width="1.2"/>
<rect x="34.4" y="234.3" width="9.3" height="3.3" fill="#fff" stroke="#0c0c0c" stroke-width="0.8"/>
<path d="M33.3 240.3 L34.3 237.7 H43.9 L44.9 240.3 Z" fill="#8a8a8a" stroke="#0c0c0c" stroke-width="0.9"/>
<path d="M31.6 240.4 H46.4 L47.8 241.8 V249.2 L46.4 250.6 H31.6 Q30.9 250.6 30.9 249.9 V241.1 Q30.9 240.4 31.6 240.4 Z" fill="#fff" stroke="#0c0c0c" stroke-width="0.85"/>
<rect x="47.8" y="242.4" width="4.8" height="6.0" fill="#fff" stroke="#0c0c0c" stroke-width="0.8"/>
<path d="M50.2 242.4 V248.4" stroke="#0c0c0c" stroke-width="0.6"/>
<rect x="52.4" y="241.1" width="4.3" height="8.6" rx="1.8" fill="#fff" stroke="#0c0c0c" stroke-width="0.85"/>
<path d="M56.7 243.2 H62.4 Q64.9 243.6 64.9 245.7 Q64.9 247.9 62.4 248.3 H56.7 Z" fill="#fff" stroke="#0c0c0c" stroke-width="0.85"/>
<path d="M73.40 257.50 H145.00" stroke="#0a0a0a" stroke-width="2.5" fill="none"/>
<path d="M70.20 257.50 L73.90 254.20 L73.90 260.80 Z" fill="#0a0a0a"/>
<path d="M148.20 257.50 L144.50 254.20 L144.50 260.80 Z" fill="#0a0a0a"/>
<path d="M162.30 278.50 L170.00 388.20 L186.00 388.20" fill="none" stroke="#222" stroke-width="0.9" />
<path d="M281.00 388.20 L307.00 388.20 L533.20 364.20" fill="none" stroke="#222" stroke-width="0.9" />
<rect x="120" y="466.1" width="107.8" height="36" fill="#0b0b0b"/>
<circle cx="88.7" cy="484.4" r="44.1" fill="#f5f5f5" stroke="#0c0c0c" stroke-width="0.8"/>
<rect x="83.4" y="441.5" width="10.6" height="53" fill="#e9e9e9" stroke="#0c0c0c" stroke-width="0.9"/>
<path d="M85.2 442 V494" stroke="#fafafa" stroke-width="1.2"/>
<path d="M83.4 436 V430.2 A5.3 5.3 0 0 1 94.0 430.2 V436 Z" fill="#ececec" stroke="#4a4a4a" stroke-width="1.1"/>
<path d="M85.3 435.4 V430.6 A3.4 3.4 0 0 1 92.1 430.6 V435.4" fill="none" stroke="#9a9a9a" stroke-width="0.7"/>
<rect x="81.6" y="435.5" width="13.9" height="6.9" rx="0.8" fill="#fff" stroke="#0c0c0c" stroke-width="0.9"/>
<path d="M85.00 420.00 H92.50" stroke="#0a0a0a" stroke-width="2.3" fill="none"/>
<path d="M82.20 420.00 L85.50 417.00 L85.50 423.00 Z" fill="#0a0a0a"/>
<path d="M95.30 420.00 L92.00 417.00 L92.00 423.00 Z" fill="#0a0a0a"/>
<path d="M100.00 426.90 V432.90" stroke="#0a0a0a" stroke-width="2.3" fill="none"/>
<path d="M100.00 423.80 L97.00 427.40 L103.00 427.40 Z" fill="#0a0a0a"/>
<path d="M100.00 436.00 L97.00 432.40 L103.00 432.40 Z" fill="#0a0a0a"/>
<path d="M73.50 438.80 V491.00" stroke="#0a0a0a" stroke-width="2.7" fill="none"/>
<path d="M73.50 435.50 L70.40 439.30 L76.60 439.30 Z" fill="#0a0a0a"/>
<path d="M73.50 494.30 L70.40 490.50 L76.60 490.50 Z" fill="#0a0a0a"/>
<path d="M33.3 498.1 L42.9 501.1 C52 500.6 64 499.3 76.3 499.3 C79.5 498.2 82 496.2 85 495.4 C92 495.4 100 495.6 105.4 495.8 C112 496 118 496.4 122.1 496.7 C127 497.1 131 497.6 133.3 497.9 L145.4 500.7 L138.9 509.5 C133 509.2 128 508.6 124.9 508.1 C120 507.4 118 506.6 115.6 506.2 C110 505.4 104 505 99.9 504.9 C94 505 90 505.4 85 506.7 C80 507.8 76 508.8 68.6 510.1 C64 510.7 58 510.5 53.1 509.7 L41.1 509.3 Z" fill="#fff" stroke="#0c0c0c" stroke-width="1.0" stroke-linejoin="round"/>
<path d="M33.3 498.1 L42.9 504.1 L53.1 509.7" fill="none" stroke="#101010" stroke-width="0.8"/>
<path d="M35.4 499.6 C42 502.2 52 506 58.3 507.1 C64 508.2 72 508.6 77.1 508 C82 507.4 86 506.6 90 505.6" fill="none" stroke="#101010" stroke-width="0.8"/>
<path d="M42.9 501.1 C52 503.5 62 505.2 68.6 505.4 C76 505.7 84 506 92 505" fill="none" stroke="#101010" stroke-width="0.8"/>
<path d="M47.1 500.7 C56 501.6 68 502.3 74.6 502.9 C80 503.5 86 504.6 90 505.2" fill="none" stroke="#101010" stroke-width="0.8"/>
<path d="M76.3 499.3 C80 500.3 86 501.6 90 502.6 C94 503.4 97 504 99.9 504.9" fill="none" stroke="#101010" stroke-width="0.8"/>
<path d="M85 498.4 C90 500 95 502 99.9 503.9" fill="none" stroke="#101010" stroke-width="0.8"/>
<path d="M90.6 495.3 C98 498 108 502.8 115.6 505.9" fill="none" stroke="#101010" stroke-width="1.1"/>
<path d="M97.1 495.6 C106 498.8 116 503.8 124 507.3" fill="none" stroke="#101010" stroke-width="1.1"/>
<path d="M105.4 495.8 C116 498.6 128 502.6 137 505.4" fill="none" stroke="#101010" stroke-width="1.1"/>
<path d="M115.6 496.3 C124 498.4 133 501.4 140.7 503.9" fill="none" stroke="#101010" stroke-width="1.1"/>
<path d="M125.9 497.2 C132 498.6 138 500.4 143.5 502.2" fill="none" stroke="#101010" stroke-width="1.1"/>
<path d="M117 505.6 C124 506 132 506.2 139.6 508.4" fill="none" stroke="#101010" stroke-width="1.1"/>
<path d="M499.10 399.40 L645.20 399.40" fill="none" stroke="#0c0c0c" stroke-width="1.4" />
<path d="M511.40 399.40 V438.80" fill="none" stroke="#0c0c0c" stroke-width="1.35"/>
<path d="M511.40 438.30 L505.80 444.20" fill="none" stroke="#0c0c0c" stroke-width="1.5" stroke-linecap="round"/>
<ellipse cx="504.50" cy="445.80" rx="2.1" ry="1.45" transform="rotate(-45 504.50 445.80)" fill="#fff" stroke="#0a0a0a" stroke-width="0.95"/>
<path d="M511.40 408.00 L505.80 413.40" fill="none" stroke="#0c0c0c" stroke-width="1.5"/>
<ellipse cx="504.50" cy="414.90" rx="2.1" ry="1.45" transform="rotate(-45 504.50 414.90)" fill="#fff" stroke="#0a0a0a" stroke-width="0.95"/>
<path d="M511.40 423.40 L516.60 428.30" fill="none" stroke="#0c0c0c" stroke-width="1.5"/>
<ellipse cx="518.10" cy="429.70" rx="2.1" ry="1.45" transform="rotate(45 518.10 429.70)" fill="#fff" stroke="#0a0a0a" stroke-width="0.95"/>
<path d="M534.90 399.40 V470.40" fill="none" stroke="#0c0c0c" stroke-width="1.35"/>
<path d="M534.90 469.90 L529.30 475.80" fill="none" stroke="#0c0c0c" stroke-width="1.5" stroke-linecap="round"/>
<ellipse cx="528.00" cy="477.40" rx="2.1" ry="1.45" transform="rotate(-45 528.00 477.40)" fill="#fff" stroke="#0a0a0a" stroke-width="0.95"/>
<path d="M534.90 438.90 L529.30 444.30" fill="none" stroke="#0c0c0c" stroke-width="1.5"/>
<ellipse cx="528.00" cy="445.80" rx="2.1" ry="1.45" transform="rotate(-45 528.00 445.80)" fill="#fff" stroke="#0a0a0a" stroke-width="0.95"/>
<path d="M534.90 424.40 L540.10 429.30" fill="none" stroke="#0c0c0c" stroke-width="1.5"/>
<ellipse cx="541.60" cy="430.70" rx="2.1" ry="1.45" transform="rotate(45 541.60 430.70)" fill="#fff" stroke="#0a0a0a" stroke-width="0.95"/>
<path d="M534.90 455.40 L540.10 460.30" fill="none" stroke="#0c0c0c" stroke-width="1.5"/>
<ellipse cx="541.60" cy="461.70" rx="2.1" ry="1.45" transform="rotate(45 541.60 461.70)" fill="#fff" stroke="#0a0a0a" stroke-width="0.95"/>
<path d="M560.30 399.40 V533.90" fill="none" stroke="#0c0c0c" stroke-width="1.35"/>
<path d="M560.30 533.40 L554.70 539.30" fill="none" stroke="#0c0c0c" stroke-width="1.5" stroke-linecap="round"/>
<ellipse cx="553.40" cy="540.90" rx="2.1" ry="1.45" transform="rotate(-45 553.40 540.90)" fill="#fff" stroke="#0a0a0a" stroke-width="0.95"/>
<path d="M560.30 408.00 L554.70 413.40" fill="none" stroke="#0c0c0c" stroke-width="1.5"/>
<ellipse cx="553.40" cy="414.90" rx="2.1" ry="1.45" transform="rotate(-45 553.40 414.90)" fill="#fff" stroke="#0a0a0a" stroke-width="0.95"/>
<path d="M560.30 438.90 L554.70 444.30" fill="none" stroke="#0c0c0c" stroke-width="1.5"/>
<ellipse cx="553.40" cy="445.80" rx="2.1" ry="1.45" transform="rotate(-45 553.40 445.80)" fill="#fff" stroke="#0a0a0a" stroke-width="0.95"/>
<path d="M560.30 470.50 L554.70 475.90" fill="none" stroke="#0c0c0c" stroke-width="1.5"/>
<ellipse cx="553.40" cy="477.40" rx="2.1" ry="1.45" transform="rotate(-45 553.40 477.40)" fill="#fff" stroke="#0a0a0a" stroke-width="0.95"/>
<path d="M560.30 503.00 L554.70 508.40" fill="none" stroke="#0c0c0c" stroke-width="1.5"/>
<ellipse cx="553.40" cy="509.90" rx="2.1" ry="1.45" transform="rotate(-45 553.40 509.90)" fill="#fff" stroke="#0a0a0a" stroke-width="0.95"/>
<path d="M560.30 423.40 L565.50 428.30" fill="none" stroke="#0c0c0c" stroke-width="1.5"/>
<ellipse cx="567.00" cy="429.70" rx="2.1" ry="1.45" transform="rotate(45 567.00 429.70)" fill="#fff" stroke="#0a0a0a" stroke-width="0.95"/>
<path d="M560.30 455.40 L565.50 460.30" fill="none" stroke="#0c0c0c" stroke-width="1.5"/>
<ellipse cx="567.00" cy="461.70" rx="2.1" ry="1.45" transform="rotate(45 567.00 461.70)" fill="#fff" stroke="#0a0a0a" stroke-width="0.95"/>
<path d="M560.30 486.80 L565.50 491.70" fill="none" stroke="#0c0c0c" stroke-width="1.5"/>
<ellipse cx="567.00" cy="493.10" rx="2.1" ry="1.45" transform="rotate(45 567.00 493.10)" fill="#fff" stroke="#0a0a0a" stroke-width="0.95"/>
<path d="M560.30 518.30 L565.50 523.20" fill="none" stroke="#0c0c0c" stroke-width="1.5"/>
<ellipse cx="567.00" cy="524.60" rx="2.1" ry="1.45" transform="rotate(45 567.00 524.60)" fill="#fff" stroke="#0a0a0a" stroke-width="0.95"/>
<path d="M583.40 399.40 V438.80" fill="none" stroke="#0c0c0c" stroke-width="1.35"/>
<path d="M583.40 438.30 L577.80 444.20" fill="none" stroke="#0c0c0c" stroke-width="1.5" stroke-linecap="round"/>
<ellipse cx="576.50" cy="445.80" rx="2.1" ry="1.45" transform="rotate(-45 576.50 445.80)" fill="#fff" stroke="#0a0a0a" stroke-width="0.95"/>
<path d="M583.40 408.00 L577.80 413.40" fill="none" stroke="#0c0c0c" stroke-width="1.5"/>
<ellipse cx="576.50" cy="414.90" rx="2.1" ry="1.45" transform="rotate(-45 576.50 414.90)" fill="#fff" stroke="#0a0a0a" stroke-width="0.95"/>
<path d="M583.40 423.40 L588.60 428.30" fill="none" stroke="#0c0c0c" stroke-width="1.5"/>
<ellipse cx="590.10" cy="429.70" rx="2.1" ry="1.45" transform="rotate(45 590.10 429.70)" fill="#fff" stroke="#0a0a0a" stroke-width="0.95"/>
<path d="M606.60 399.40 V470.40" fill="none" stroke="#0c0c0c" stroke-width="1.35"/>
<path d="M606.60 469.90 L601.00 475.80" fill="none" stroke="#0c0c0c" stroke-width="1.5" stroke-linecap="round"/>
<ellipse cx="599.70" cy="477.40" rx="2.1" ry="1.45" transform="rotate(-45 599.70 477.40)" fill="#fff" stroke="#0a0a0a" stroke-width="0.95"/>
<path d="M606.60 438.90 L601.00 444.30" fill="none" stroke="#0c0c0c" stroke-width="1.5"/>
<ellipse cx="599.70" cy="445.80" rx="2.1" ry="1.45" transform="rotate(-45 599.70 445.80)" fill="#fff" stroke="#0a0a0a" stroke-width="0.95"/>
<path d="M606.60 424.40 L611.80 429.30" fill="none" stroke="#0c0c0c" stroke-width="1.5"/>
<ellipse cx="613.30" cy="430.70" rx="2.1" ry="1.45" transform="rotate(45 613.30 430.70)" fill="#fff" stroke="#0a0a0a" stroke-width="0.95"/>
<path d="M606.60 455.40 L611.80 460.30" fill="none" stroke="#0c0c0c" stroke-width="1.5"/>
<ellipse cx="613.30" cy="461.70" rx="2.1" ry="1.45" transform="rotate(45 613.30 461.70)" fill="#fff" stroke="#0a0a0a" stroke-width="0.95"/>
<path d="M632.30 399.40 V533.90" fill="none" stroke="#0c0c0c" stroke-width="1.35"/>
<path d="M632.30 533.40 L626.70 539.30" fill="none" stroke="#0c0c0c" stroke-width="1.5" stroke-linecap="round"/>
<ellipse cx="625.40" cy="540.90" rx="2.1" ry="1.45" transform="rotate(-45 625.40 540.90)" fill="#fff" stroke="#0a0a0a" stroke-width="0.95"/>
<path d="M632.30 408.00 L626.70 413.40" fill="none" stroke="#0c0c0c" stroke-width="1.5"/>
<ellipse cx="625.40" cy="414.90" rx="2.1" ry="1.45" transform="rotate(-45 625.40 414.90)" fill="#fff" stroke="#0a0a0a" stroke-width="0.95"/>
<path d="M632.30 438.90 L626.70 444.30" fill="none" stroke="#0c0c0c" stroke-width="1.5"/>
<ellipse cx="625.40" cy="445.80" rx="2.1" ry="1.45" transform="rotate(-45 625.40 445.80)" fill="#fff" stroke="#0a0a0a" stroke-width="0.95"/>
<path d="M632.30 470.50 L626.70 475.90" fill="none" stroke="#0c0c0c" stroke-width="1.5"/>
<ellipse cx="625.40" cy="477.40" rx="2.1" ry="1.45" transform="rotate(-45 625.40 477.40)" fill="#fff" stroke="#0a0a0a" stroke-width="0.95"/>
<path d="M632.30 503.00 L626.70 508.40" fill="none" stroke="#0c0c0c" stroke-width="1.5"/>
<ellipse cx="625.40" cy="509.90" rx="2.1" ry="1.45" transform="rotate(-45 625.40 509.90)" fill="#fff" stroke="#0a0a0a" stroke-width="0.95"/>
<path d="M632.30 423.40 L637.50 428.30" fill="none" stroke="#0c0c0c" stroke-width="1.5"/>
<ellipse cx="639.00" cy="429.70" rx="2.1" ry="1.45" transform="rotate(45 639.00 429.70)" fill="#fff" stroke="#0a0a0a" stroke-width="0.95"/>
<path d="M632.30 455.40 L637.50 460.30" fill="none" stroke="#0c0c0c" stroke-width="1.5"/>
<ellipse cx="639.00" cy="461.70" rx="2.1" ry="1.45" transform="rotate(45 639.00 461.70)" fill="#fff" stroke="#0a0a0a" stroke-width="0.95"/>
<path d="M632.30 486.80 L637.50 491.70" fill="none" stroke="#0c0c0c" stroke-width="1.5"/>
<ellipse cx="639.00" cy="493.10" rx="2.1" ry="1.45" transform="rotate(45 639.00 493.10)" fill="#fff" stroke="#0a0a0a" stroke-width="0.95"/>
<path d="M632.30 518.30 L637.50 523.20" fill="none" stroke="#0c0c0c" stroke-width="1.5"/>
<ellipse cx="639.00" cy="524.60" rx="2.1" ry="1.45" transform="rotate(45 639.00 524.60)" fill="#fff" stroke="#0a0a0a" stroke-width="0.95"/>
<path d="M653.00 406.00 V537.70" stroke="#0a0a0a" stroke-width="3.2" fill="none"/>
<path d="M653.00 402.70 L649.00 406.50 L657.00 406.50 Z" fill="#0a0a0a"/>
<path d="M653.00 541.00 L649.00 537.20 L657.00 537.20 Z" fill="#0a0a0a"/>
<path d="M588.30 501.60 H603.90" stroke="#0a0a0a" stroke-width="3.1" fill="none"/>
<path d="M585.00 501.60 L588.80 498.00 L588.80 505.20 Z" fill="#0a0a0a"/>
<path d="M607.20 501.60 L603.40 498.00 L603.40 505.20 Z" fill="#0a0a0a"/>
<path d="M436.40 433.40 L512.00 423.60" fill="none" stroke="#222" stroke-width="0.9" />
<path d="M436.40 433.40 L512.00 437.70" fill="none" stroke="#222" stroke-width="0.9" />
</svg>

<div class="t" id="title" style="left:259.4px;top:133.7px;font-size:36.5px;color:#0d0d0d;">Dimensiuni</div>


<div class="bx" style="left:319px;top:183.2px;width:62.2px;height:23.4px;"><span id="b33" style="left:4.7px;top:5.2px;font-size:14.5px;">33 metri</span></div>
<div class="bx" style="left:188.3px;top:202.3px;width:120.6px;height:17.2px;"><span id="bsec1" style="left:2.3px;top:2.8px;font-size:12.5px;">o secțiune de 3 metri</span></div>
<div class="bx" style="left:388.9px;top:202.3px;width:120.2px;height:17.2px;"><span id="bsec2" style="left:3.8px;top:2.6px;font-size:12.5px;">6 secțiuni de 5 metri</span></div>
<div class="bx" style="left:583px;top:201px;width:69.2px;height:45.6px;"><span id="bcon" style="left:4.2px;top:4.2px;font-size:11px;line-height:13.1px;">Conectează<br>alte seturi<br>până la 40m</span></div>
<div class="bx" style="left:185.5px;top:378.3px;width:95.6px;height:20.6px;"><span id="bnr" style="left:5.2px;top:5.9px;font-size:11px;">Nr. LED-uri: 954</span></div>
<div class="bx" style="left:132.5px;top:467px;width:95px;height:34.6px;background:none;"><span id="bled" style="left:4.1px;top:4.3px;font-size:11px;line-height:12.9px;">LED-uri cu lumină<br>puternică</span></div>

<div class="t" id="t3m" style="left:99px;top:265.8px;font-size:14.5px;">3m</div>
<div class="t" id="tmar" style="left:31.1px;top:388.1px;font-size:14.56px;">Mărimea LED-ului</div>
<div class="t" id="tspa" style="left:551.3px;top:373.4px;font-size:14.5px;">Spațiere</div>
<div class="t" id="t5a" style="color:#2a2a2a;left:81.8px;top:408.9px;font-size:7.3px;">5mm</div>
<div class="t" id="t5b" style="color:#2a2a2a;left:104.4px;top:425.6px;font-size:7.3px;">5mm</div>
<div class="t" id="t25" style="color:#2a2a2a;left:50.6px;top:463.2px;font-size:7.3px;">25mm</div>
<div class="t" id="t9" style="left:412.8px;top:428.1px;font-size:9.1px;color:#2a2a2a;">9cm</div>
<div class="t" id="t16" style="left:585.5px;top:508.4px;font-size:8.8px;color:#2a2a2a;">16cm</div>
<div class="t" id="t07" style="left:663px;top:462.6px;font-size:9.1px;color:#2a2a2a;">0,7m</div>
<div class="t" id="foot" style="left:74.7px;top:559.7px;font-size:14.63px;color:#0d0d0d;">*Dimensiunile produsului sunt aproximative și variază din cauza îndoiturilor din cablu.</div>
</body>
</html>
